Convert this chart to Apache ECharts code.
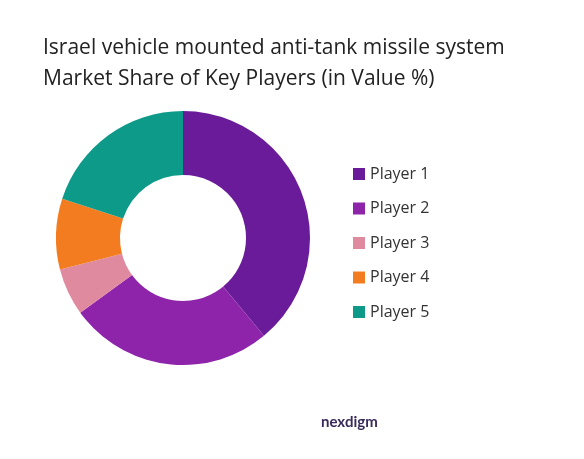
<!DOCTYPE html>
<html><head><meta charset="utf-8">
<script src="https://cdn.jsdelivr.net/npm/echarts@6/dist/echarts.min.js"></script>
<style>html,body{margin:0;background:#fff}#c{width:584px;height:459px}</style>
</head><body><div id="c"></div>
<script>
const categories = ['Player 1','Player 2','Player 3','Player 4','Player 5'];
const values = [39, 26, 6, 9, 20];
const colors = ['#6a1b9a','#8e24aa','#e08aa0','#f47c20','#0e9a88'];
const chart = echarts.init(document.getElementById('c'));
chart.setOption({
  title: [{
    text: 'Israel vehicle mounted anti-tank missile system\nMarket Share of Key Players (in Value %)',
    left: 38, top: 28,
    textStyle: {fontFamily: 'Open Sans', fontSize: 21, fontWeight: 'normal', color: '#222', lineHeight: 31}
  },{
    text: 'nexdigm', left: 316, top: 410,
    textStyle: {fontFamily: 'Lato', fontSize: 15, fontWeight: 'bold', color: '#3a2a5a'}
  }],
  legend: {
    orient: 'vertical', left: 348, top: 161, itemGap: 18.5,
    icon: 'rect', itemWidth: 12, itemHeight: 12,
    textStyle: {fontFamily: 'Open Sans', fontSize: 16, color: '#333'},
    data: categories
  },
  series: [{
    type: 'pie', center: [183, 238], radius: [63, 127],
    startAngle: 90, clockwise: true, label: {show: false},
    silent: true,
    data: categories.map((n,i)=>({name:n, value:values[i], itemStyle:{color:colors[i]}}))
  }]
});
</script></body></html>
